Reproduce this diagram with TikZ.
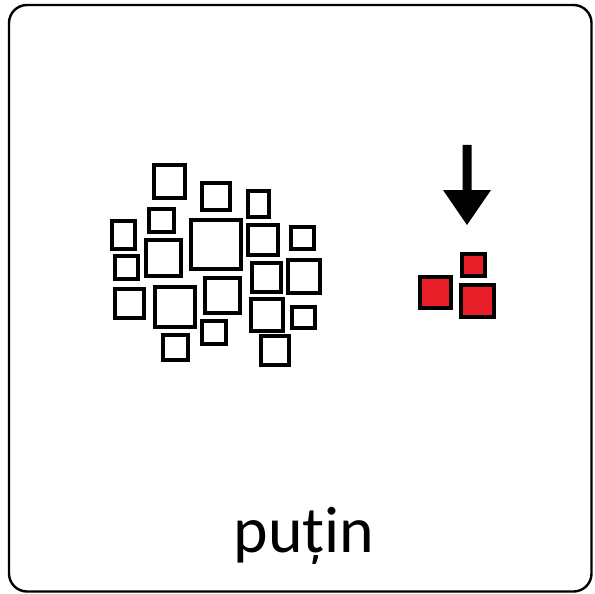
\documentclass[tikz,border=0pt]{standalone}
\usepackage{fontspec}
\setmainfont{Carlito}
\definecolor{boxred}{RGB}{232,30,40}
\begin{document}
\begin{tikzpicture}[x=1bp,y=-1bp,
  frame/.style={draw=black,line width=2.4bp,rounded corners=18bp},
  sq/.style={draw=black,line width=4.4bp,fill=white},
  rsq/.style={draw=black,line width=4bp,fill=boxred},
  lbl/.style={anchor=base,inner sep=0pt,font=\fontsize{66}{78}\selectfont}]
\useasboundingbox (0,0) rectangle (595,594);
\draw[frame] (9,5) rectangle (591.5,591.5);
% grey squares cluster
\draw[sq] (154.2,165.2) rectangle (184.8,197.8);
\draw[sq] (202.2,183.2) rectangle (229.8,209.8);
\draw[sq] (248.2,191.2) rectangle (268.8,216.8);
\draw[sq] (149.2,209.2) rectangle (173.8,231.8);
\draw[sq] (112.2,221.2) rectangle (134.8,248.8);
\draw[sq] (191.2,220.2) rectangle (240.8,268.8);
\draw[sq] (248.2,225.2) rectangle (277.8,254.8);
\draw[sq] (291.2,227.2) rectangle (313.8,248.8);
\draw[sq] (146.2,240.2) rectangle (180.8,275.8);
\draw[sq] (115.2,256.2) rectangle (137.8,278.8);
\draw[sq] (252.2,263.2) rectangle (280.8,291.8);
\draw[sq] (288.2,260.2) rectangle (319.8,292.8);
\draw[sq] (115.2,289.2) rectangle (143.8,317.8);
\draw[sq] (155.2,287.2) rectangle (194.8,326.8);
\draw[sq] (205.2,278.2) rectangle (239.8,312.8);
\draw[sq] (251.2,299.2) rectangle (282.8,330.8);
\draw[sq] (292.2,307.2) rectangle (314.8,327.8);
\draw[sq] (202.2,321.2) rectangle (225.8,343.8);
\draw[sq] (163.2,335.2) rectangle (187.8,359.8);
\draw[sq] (261.2,336.2) rectangle (288.8,364.8);
% arrow
\fill[black] (462.5,145) -- (471.5,145) -- (471.5,190) -- (491,190) -- (467,225)
  -- (443,190) -- (462.5,190) -- cycle;
% red squares
\draw[rsq] (462,254) rectangle (485,276);
\draw[rsq] (420,277) rectangle (451,308);
\draw[rsq] (461,285) rectangle (494,317);
\node[lbl] (word) at (304,552) {puțin};
\end{tikzpicture}
\end{document}
